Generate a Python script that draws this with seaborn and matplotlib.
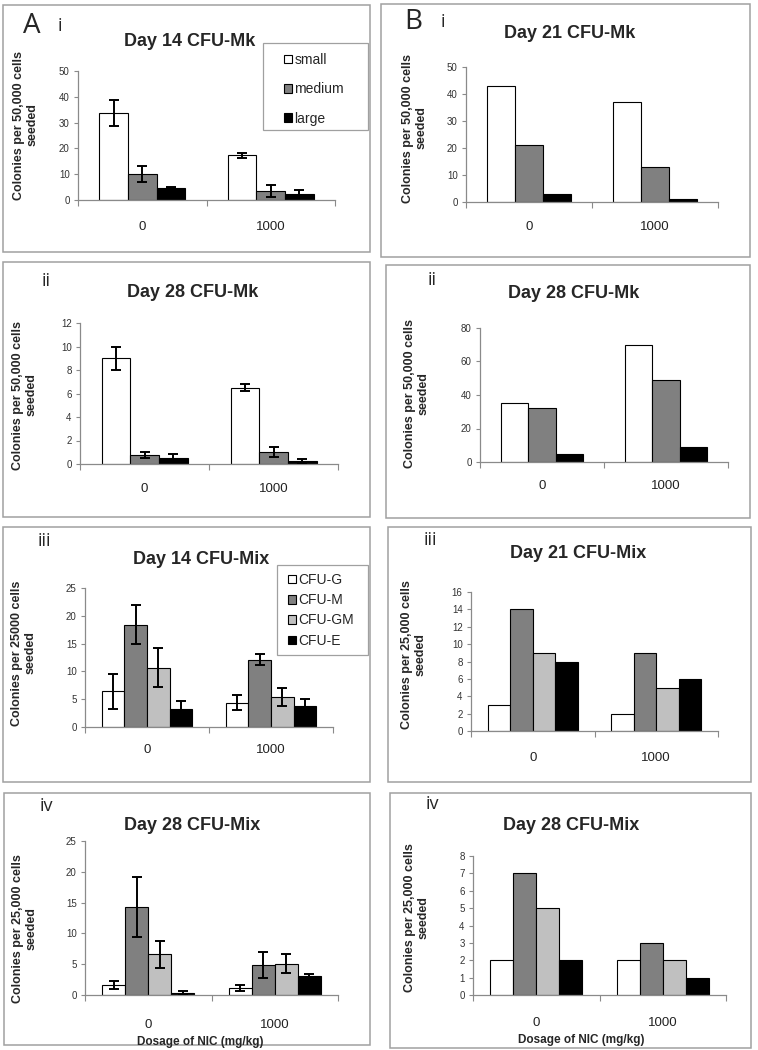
import matplotlib
matplotlib.use("Agg")
import numpy as np
import pandas as pd
import matplotlib.pyplot as plt
import seaborn as sns
from matplotlib.patches import Rectangle

# Categories
doses = ["0", "1000"]
mk_sizes = ["small", "medium", "large"]
mix_types = ["CFU-G", "CFU-M", "CFU-GM", "CFU-E"]

# Values: one row per colony type, one column per dose
a_d14_mk_vals = [[33.8, 17.4], [9.9, 3.5], [4.8, 2.5]]
a_d14_mk_err = [[5.0, 0.95], [3.1, 2.3], [0.3, 1.5]]
b_d21_mk_vals = [[43, 37], [21, 13], [3, 1]]

a_d28_mk_vals = [[9.0, 6.5], [0.77, 1.0], [0.51, 0.28]]
a_d28_mk_err = [[1.0, 0.3], [0.28, 0.44], [0.33, 0.18]]
b_d28_mk_vals = [[35, 70], [32, 49], [5, 9]]

a_d14_mix_vals = [[6.4, 4.4], [18.4, 12.1], [10.7, 5.4], [3.2, 3.8]]
a_d14_mix_err = [[3.2, 1.4], [3.5, 1.0], [3.5, 1.7], [1.4, 1.3]]
b_d21_mix_vals = [[3, 2], [14, 9], [9, 5], [8, 6]]

a_d28_mix_vals = [[1.6, 1.1], [14.3, 4.9], [6.6, 5.1], [0.4, 3.1]]
a_d28_mix_err = [[0.7, 0.45], [4.9, 2.1], [2.2, 1.5], [0.2, 0.3]]
b_d28_mix_vals = [[2, 2], [7, 3], [5, 2], [2, 1]]

mk_palette = {"small": "white", "medium": "#808080", "large": "black"}
mix_palette = {"CFU-G": "white", "CFU-M": "#808080", "CFU-GM": "#c0c0c0", "CFU-E": "black"}

sns.set_style("ticks")
plt.rcParams['font.family'] = ['Liberation Sans', 'DejaVu Sans']

W, H = 758, 1050
fig = plt.figure(figsize=(W / 100, H / 100), dpi=100)


def fx(x):
    return x / W


def fy(y):
    return 1 - y / H


def long_frame(levels, vals):
    rows = []
    for lev, row in zip(levels, vals):
        for dose, v in zip(doses, row):
            rows.append({"dose": dose, "kind": lev, "value": v})
    return pd.DataFrame(rows)


# layout of each panel, in pixels of the reference
panels = [
    dict(vals=a_d14_mk_vals, err=a_d14_mk_err, levels=mk_sizes, pal=mk_palette, ymax=50, step=10,
         title="Day 14 CFU-Mk", ylab="Colonies per 50,000 cells\nseeded", letter="A", roman="i",
         box=(3, 5, 370, 252), ax=(78, 335, 200, 71), title_xy=(190, 42), ylab_xy=(26, 125),
         letter_xy=(32, 26), roman_xy=(60, 26), pad=15, legend=(263, 43, 368, 130), leg_in=(21, 10)),
    dict(vals=b_d21_mk_vals, err=None, levels=mk_sizes, pal=mk_palette, ymax=50, step=10,
         title="Day 21 CFU-Mk", ylab="Colonies per 50,000 cells\nseeded", letter="B", roman="i",
         box=(381, 4, 750, 257), ax=(466, 718, 202, 67), title_xy=(570, 33), ylab_xy=(415, 128),
         letter_xy=(413, 22), roman_xy=(443, 22), pad=14),
    dict(vals=a_d28_mk_vals, err=a_d28_mk_err, levels=mk_sizes, pal=mk_palette, ymax=12, step=2,
         title="Day 28 CFU-Mk", ylab="Colonies per 50,000 cells\nseeded", roman="ii",
         box=(3, 262, 370, 517), ax=(80, 338, 464, 323), title_xy=(193, 293), ylab_xy=(25, 395),
         roman_xy=(46, 281), pad=14),
    dict(vals=b_d28_mk_vals, err=None, levels=mk_sizes, pal=mk_palette, ymax=80, step=20,
         title="Day 28 CFU-Mk", ylab="Colonies per 50,000 cells\nseeded", roman="ii",
         box=(386, 265, 750, 518), ax=(480, 728, 462, 328), title_xy=(574, 294), ylab_xy=(417, 394),
         roman_xy=(432, 280), pad=13),
    dict(vals=a_d14_mix_vals, err=a_d14_mix_err, levels=mix_types, pal=mix_palette, ymax=25, step=5,
         title="Day 14 CFU-Mix", ylab="Colonies per 25000 cells\nseeded", roman="iii",
         box=(3, 527, 370, 782), ax=(85, 333, 727, 588), title_xy=(201, 559), ylab_xy=(24, 653),
         roman_xy=(44, 541), pad=12, legend=(277, 565, 368, 655), leg_in=(11, 8)),
    dict(vals=b_d21_mix_vals, err=None, levels=mix_types, pal=mix_palette, ymax=16, step=2,
         title="Day 21 CFU-Mix", ylab="Colonies per 25,000 cells\nseeded", roman="iii",
         box=(388, 527, 751, 782), ax=(471, 718, 731, 592), title_xy=(578, 554), ylab_xy=(414, 655),
         roman_xy=(430, 540), pad=15),
    dict(vals=a_d28_mix_vals, err=a_d28_mix_err, levels=mix_types, pal=mix_palette, ymax=25, step=5,
         title="Day 28 CFU-Mix", ylab="Colonies per 25,000 cells\nseeded", roman="iv",
         box=(4, 793, 370, 1045), ax=(85, 338, 995, 841), title_xy=(192, 825), ylab_xy=(25, 929),
         roman_xy=(46, 806), pad=17, xlab_xy=(200, 1042)),
    dict(vals=b_d28_mix_vals, err=None, levels=mix_types, pal=mix_palette, ymax=8, step=1,
         title="Day 28 CFU-Mix", ylab="Colonies per 25,000 cells\nseeded", roman="iv",
         box=(390, 793, 751, 1048), ax=(473, 726, 995, 856), title_xy=(571, 825), ylab_xy=(417, 918),
         roman_xy=(432, 804), pad=16, xlab_xy=(581, 1040)),
]

axis_grey = "#8a8a8a"

for p in panels:
    # panel frame
    l, t, r, b = p["box"]
    fig.patches.append(Rectangle((fx(l), fy(b)), fx(r) - fx(l), (b - t) / H, transform=fig.transFigure,
                                 fill=False, edgecolor="#a0a0a0", linewidth=1.1, zorder=0))

    al, ar, ab, at = p["ax"]
    ax = fig.add_axes([fx(al), fy(ab), fx(ar) - fx(al), (ab - at) / H])
    df = long_frame(p["levels"], p["vals"])
    n = len(p["levels"])
    has_legend = "legend" in p
    sns.barplot(data=df, x="dose", y="value", hue="kind", order=doses, hue_order=p["levels"],
                palette=p["pal"], edgecolor="black", linewidth=0.8, width=n / (n + 1.5),
                errorbar=None, legend=has_legend, ax=ax)

    if p["err"] is not None:
        for cont, errs in zip(ax.containers, p["err"]):
            xs = [bar.get_x() + bar.get_width() / 2 for bar in cont]
            ys = [bar.get_height() for bar in cont]
            ax.errorbar(xs, ys, yerr=errs, fmt="none", ecolor="black", elinewidth=1.4,
                        capsize=3.5, capthick=1.4, zorder=5)

    ax.set_xlim(-0.5, 1.5)
    ax.set_ylim(0, p["ymax"])
    ax.set_yticks(np.arange(0, p["ymax"] + 0.01, p["step"]))
    ax.set_xticks([-0.5, 0.5, 1.5], minor=True)
    ax.set_xlabel("")
    ax.set_ylabel("")
    sns.despine(ax=ax)
    for side in ["left", "bottom"]:
        ax.spines[side].set_color(axis_grey)
        ax.spines[side].set_linewidth(0.9)
    ax.tick_params(axis="y", length=3, width=0.8, color=axis_grey, labelsize=7, labelcolor="#333333", pad=3)
    ax.tick_params(axis="x", which="major", length=0, labelsize=9.5, labelcolor="#222222", pad=p["pad"])
    ax.tick_params(axis="x", which="minor", length=4, width=0.8, color=axis_grey)
    ax.set_facecolor("none")

    if has_legend:
        ll, lt, lr, lb = p["legend"]
        dx, dy = p["leg_in"]
        fig.patches.append(Rectangle((fx(ll), fy(lb)), fx(lr) - fx(ll), (lb - lt) / H,
                                     transform=fig.transFigure, fill=False,
                                     edgecolor="#a0a0a0", linewidth=0.9, zorder=0))
        spacing = 1.1 if n == 3 else 0.45
        sns.move_legend(ax, loc="upper left", bbox_to_anchor=(fx(ll + dx), fy(lt + dy)),
                        bbox_transform=fig.transFigure, frameon=False, title=None, fontsize=10,
                        handlelength=0.55, handleheight=0.55, handletextpad=0.2,
                        labelspacing=spacing, borderpad=0, borderaxespad=0)
        ax.get_legend().set_zorder(10)

    fig.text(fx(p["title_xy"][0]), fy(p["title_xy"][1]), p["title"], ha="center", va="center",
             fontsize=13, fontweight="bold")
    fig.text(fx(p["ylab_xy"][0]), fy(p["ylab_xy"][1]), p["ylab"], ha="center", va="center",
             rotation=90, multialignment="center", fontsize=9, fontweight="bold", linespacing=1.15)
    if "letter" in p:
        fig.text(fx(p["letter_xy"][0]), fy(p["letter_xy"][1]), p["letter"], ha="center", va="center",
                 fontsize=20, family=["Open Sans", "DejaVu Sans"])
    fig.text(fx(p["roman_xy"][0]), fy(p["roman_xy"][1]), p["roman"], ha="center", va="center",
             fontsize=13, family=["Open Sans", "DejaVu Sans"])
    if "xlab_xy" in p:
        fig.text(fx(p["xlab_xy"][0]), fy(p["xlab_xy"][1]), "Dosage of NIC (mg/kg)", ha="center",
                 va="center", fontsize=8.5, fontweight="bold")

fig.savefig("out.png", dpi=100)
